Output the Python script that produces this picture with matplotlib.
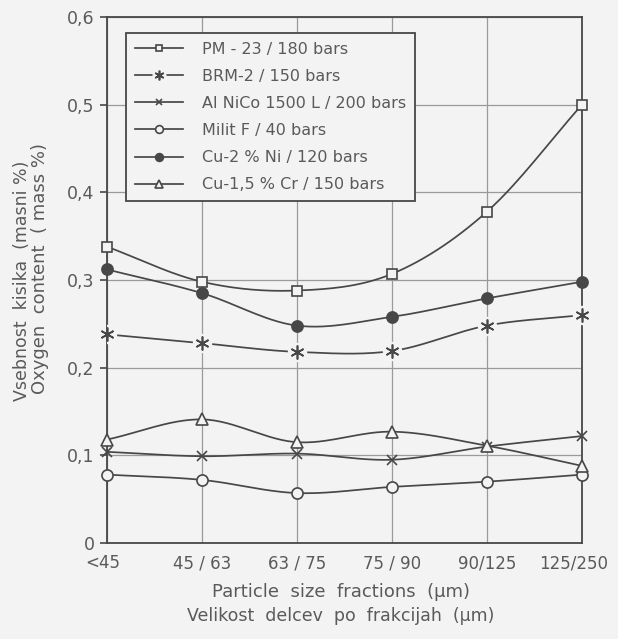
import numpy as np
import matplotlib
matplotlib.use("Agg")
import matplotlib.pyplot as plt
from matplotlib.ticker import FixedLocator, FixedFormatter
from matplotlib.transforms import ScaledTranslation

# Particle size fractions (µm)
fractions = ["<45", "45 / 63", "63 / 75", "75 / 90", "90/125", "125/250"]

# Oxygen content (mass %) per powder
pm23 = [0.338, 0.298, 0.288, 0.307, 0.378, 0.500]
brm2 = [0.238, 0.228, 0.218, 0.219, 0.248, 0.260]
alnico = [0.104, 0.099, 0.102, 0.095, 0.110, 0.122]
milit = [0.078, 0.072, 0.057, 0.064, 0.070, 0.078]
cuni = [0.312, 0.285, 0.248, 0.258, 0.279, 0.298]
cucr = [0.118, 0.141, 0.115, 0.127, 0.111, 0.088]

labels = ["PM - 23 / 180 bars", "BRM-2 / 150 bars", "Al NiCo 1500 L / 200 bars",
          "Milit F / 40 bars", "Cu-2 % Ni / 120 bars", "Cu-1,5 % Cr / 150 bars"]

yticks = [0, 0.1, 0.2, 0.3, 0.4, 0.5, 0.6]
ytick_labels = ["0", "0,1", "0,2", "0,3", "0,4", "0,5", "0,6"]

BG = "#f3f3f3"
INK = "#474747"
TXT = "#5a5a5a"
GRID = "#9a9a9a"


def smooth(xs, ys, n=30):
    """Catmull-Rom curve through the measured points."""
    xs = np.asarray(xs, float)
    ys = np.asarray(ys, float)
    m = np.gradient(ys, xs)
    out_x, out_y = [], []
    for i in range(len(xs) - 1):
        h = xs[i + 1] - xs[i]
        t = np.linspace(0, 1, n, endpoint=(i == len(xs) - 2))
        h00 = 2 * t**3 - 3 * t**2 + 1
        h10 = t**3 - 2 * t**2 + t
        h01 = -2 * t**3 + 3 * t**2
        h11 = t**3 - t**2
        out_x.append(xs[i] + t * h)
        out_y.append(h00 * ys[i] + h10 * h * m[i] + h01 * ys[i + 1] + h11 * h * m[i + 1])
    return np.concatenate(out_x), np.concatenate(out_y)


plt.rcParams["font.family"] = ["DejaVu Sans"]
fig = plt.figure(figsize=(6.18, 6.39), dpi=100, facecolor=BG)
ax = fig.add_axes([0.1731, 0.1502, 0.7686, 0.8232])
ax.set_facecolor(BG)

x = np.arange(len(fractions))

ax.set_xlim(0, len(fractions) - 1)
ax.set_ylim(0, 0.6)
ax.grid(True, color=GRID, linewidth=0.9)
ax.set_axisbelow(True)

series = [
    (pm23, dict(marker="s", markersize=6.5, markerfacecolor=BG)),
    (brm2, dict(marker=(6, 2, 0), markersize=10, markerfacecolor=INK)),
    (alnico, dict(marker="x", markersize=7, markerfacecolor=INK)),
    (milit, dict(marker="o", markersize=8, markerfacecolor=BG)),
    (cuni, dict(marker="o", markersize=8, markerfacecolor=INK)),
    (cucr, dict(marker="^", markersize=8, markerfacecolor=BG)),
]

handles = []
for vals, style in series:
    sx, sy = smooth(x, vals)
    line, = ax.plot(sx, sy, color=INK, linewidth=1.25, zorder=3)
    parts = [line]
    if style["marker"] == (6, 2, 0):
        gap, = ax.plot(x, vals, linestyle="none", marker="o", markersize=13,
                       markerfacecolor=BG, markeredgecolor=BG, zorder=4)
        parts.append(gap)
    mk, = ax.plot(x, vals, linestyle="none", color=INK, markeredgecolor=INK,
                  markeredgewidth=1.2, zorder=5, clip_on=False, **style)
    parts.append(mk)
    handles.append(tuple(parts))

for sp in ax.spines.values():
    sp.set_color(INK)
    sp.set_linewidth(1.3)

ax.xaxis.set_major_locator(FixedLocator(x))
ax.xaxis.set_major_formatter(FixedFormatter(fractions))
ax.yaxis.set_major_locator(FixedLocator(yticks))
ax.yaxis.set_major_formatter(FixedFormatter(ytick_labels))
ax.tick_params(axis="x", length=0, pad=8, labelsize=12, labelcolor=TXT)
ax.tick_params(axis="y", length=5, width=1.2, color=INK, direction="out",
               pad=4, labelsize=12.5, labelcolor=TXT)

# keep the outermost category labels inside the figure edge
xlabels = ax.get_xticklabels()
xlabels[0].set_transform(xlabels[0].get_transform()
                         + ScaledTranslation(-4 / 100, 0, fig.dpi_scale_trans))
xlabels[-1].set_transform(xlabels[-1].get_transform()
                          + ScaledTranslation(-8 / 100, 0, fig.dpi_scale_trans))

fig.text(0.552, 0.073, "Particle  size  fractions  (µm)", ha="center", va="center",
         fontsize=13, color=TXT)
fig.text(0.552, 0.036, "Velikost  delcev  po  frakcijah  (µm)", ha="center",
         va="center", fontsize=12.5, color=TXT)
fig.text(0.036, 0.56, "Vsebnost  kisika  (masni %)", rotation=90, ha="center",
         va="center", fontsize=12.5, color=TXT)
fig.text(0.064, 0.58, "Oxygen  content  ( mass %)", rotation=90, ha="center",
         va="center", fontsize=13, color=TXT)

leg = ax.legend(handles, labels, loc="upper left", bbox_to_anchor=(0.04, 0.97),
                borderaxespad=0, fontsize=11.5, handlelength=3.0, labelspacing=0.76,
                frameon=True, fancybox=False, facecolor=BG, framealpha=1,
                edgecolor=INK, handletextpad=1.2, borderpad=0.55, labelcolor=TXT,
                markerscale=0.7)
leg.get_frame().set_linewidth(1.3)
leg.set_zorder(10)

fig.savefig("out.png", dpi=100, facecolor=BG)
